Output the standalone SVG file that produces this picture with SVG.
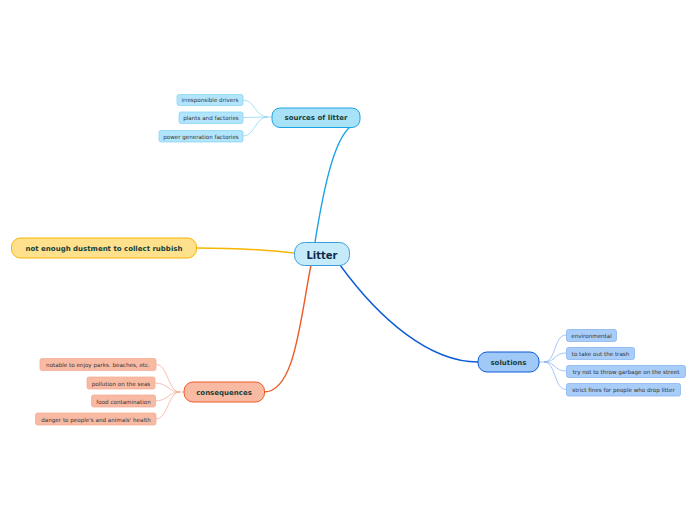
<svg xmlns="http://www.w3.org/2000/svg" width="696" height="520" viewBox="0 0 696 520">
<style>
text{font-family:"DejaVu Sans",Verdana,sans-serif;text-anchor:middle;dominant-baseline:central}
.main text{font-weight:bold;font-size:7px;fill:#17403a}
.sub text{font-size:5.6px;fill:#333}
.c{fill:none;stroke-width:1.4}
.s{fill:none;stroke-width:0.7}
</style>
<rect width="696" height="520" fill="#fff"/>
<g id="connectors">
<path class="c" stroke="#1aa3e3" d="M315,242 C325,180 335,140 350,127"/>
<path class="c" stroke="#f7b500" d="M294,253 C260,249 230,248 196,248"/>
<path class="c" stroke="#ef5a24" d="M311,265 C300,320 295,392 264,392"/>
<path class="c" stroke="#0b5bd6" d="M340,265 C380,320 430,362 478,362"/>
<g stroke="#7fd3f2">
<path class="s" d="M268,117 C255,117 255,100 243,100"/>
<path class="s" d="M268,117 L243,117.5"/>
<path class="s" d="M268,117 C255,117 255,136 243,136"/>
<path class="s" d="M272,117 L268,117"/>
</g>
<g stroke="#f5a68c">
<path class="s" d="M184,392 L180,392"/>
<path class="s" d="M180,392 C168,392 168,364.5 156,364.5"/>
<path class="s" d="M180,392 C168,392 168,383 155,383"/>
<path class="s" d="M180,392 C168,392 168,401 155,401"/>
<path class="s" d="M180,392 C168,392 168,419 156,419"/>
</g>
<g stroke="#7eaef0">
<path class="s" d="M539,362 L544,362"/>
<path class="s" d="M544,362 C556,362 554,335 566,335"/>
<path class="s" d="M544,362 C556,362 554,353 566,353"/>
<path class="s" d="M544,362 C556,362 554,371 566,371"/>
<path class="s" d="M544,362 C556,362 554,389.5 566,389.5"/>
</g>
</g>
<g id="litter">
<rect x="294.5" y="242.5" width="55" height="23" rx="10" fill="#c5ebfb" stroke="#3a9ee0" stroke-width="1"/>
<text x="322" y="255" style="font-weight:bold;font-size:10px;fill:#0f2a4a">Litter</text>
</g>
<g id="sources" class="main">
<rect x="272" y="108" width="88" height="19.5" rx="8" fill="#a8e2f8" stroke="#1aa3e3" stroke-width="1"/>
<text x="316" y="118.3">sources of litter</text>
</g>
<g id="src1" class="sub"><rect x="177" y="94.5" width="66" height="11" rx="2" fill="#b2e5fb" stroke="#7fd3f2" stroke-width="0.7"/><text x="210" y="100.3">irresponsible drivers</text></g>
<g id="src2" class="sub"><rect x="179" y="112" width="64" height="11.5" rx="2" fill="#b2e5fb" stroke="#7fd3f2" stroke-width="0.7"/><text x="211" y="118.2">plants and factories</text></g>
<g id="src3" class="sub"><rect x="159" y="130.5" width="84" height="11.5" rx="2" fill="#b2e5fb" stroke="#7fd3f2" stroke-width="0.7"/><text x="201" y="136.7">power generation factories</text></g>
<g id="dustment" class="main">
<rect x="11.5" y="238" width="185" height="20" rx="9" fill="#ffe08c" stroke="#f7b500" stroke-width="1"/>
<text x="104" y="248.6">not enough dustment to collect rubbish</text>
</g>
<g id="consequences" class="main">
<rect x="184" y="382" width="80.5" height="20" rx="9" fill="#f9baa4" stroke="#ef5a24" stroke-width="1"/>
<text x="224" y="392.6">consequences</text>
</g>
<g id="con1" class="sub"><rect x="40" y="358.5" width="116" height="12" rx="2" fill="#f9baa4" stroke="#f5a68c" stroke-width="0.7"/><text x="98" y="365">notable to enjoy parks. beaches, etc.</text></g>
<g id="con2" class="sub"><rect x="87" y="377" width="68" height="12" rx="2" fill="#f9baa4" stroke="#f5a68c" stroke-width="0.7"/><text x="121" y="383.5">pollution on the seas</text></g>
<g id="con3" class="sub"><rect x="91.5" y="395" width="64" height="12" rx="2" fill="#f9baa4" stroke="#f5a68c" stroke-width="0.7"/><text x="123.5" y="401.5">food contamination</text></g>
<g id="con4" class="sub"><rect x="35.5" y="413" width="120.5" height="12" rx="2" fill="#f9baa4" stroke="#f5a68c" stroke-width="0.7"/><text x="96" y="419.5">danger to people's and animals' health</text></g>
<g id="solutions" class="main">
<rect x="478" y="352" width="61" height="20" rx="9" fill="#a1c9f8" stroke="#0b5bd6" stroke-width="1"/>
<text x="508.5" y="362.6">solutions</text>
</g>
<g id="sol1" class="sub"><rect x="566.5" y="329.5" width="50" height="12" rx="2" fill="#a8cdf8" stroke="#7eaef0" stroke-width="0.7"/><text x="591.5" y="336">environmental</text></g>
<g id="sol2" class="sub"><rect x="566.5" y="347.5" width="68" height="12" rx="2" fill="#a8cdf8" stroke="#7eaef0" stroke-width="0.7"/><text x="600.5" y="354">to take out the trash</text></g>
<g id="sol3" class="sub"><rect x="566.5" y="365.5" width="119" height="12" rx="2" fill="#a8cdf8" stroke="#7eaef0" stroke-width="0.7"/><text x="626" y="372">try not to throw garbage on the street</text></g>
<g id="sol4" class="sub"><rect x="566.5" y="383.5" width="114" height="12.5" rx="2" fill="#a8cdf8" stroke="#7eaef0" stroke-width="0.7"/><text x="623.5" y="390.2">strict fines for people who drop litter</text></g>
</svg>
